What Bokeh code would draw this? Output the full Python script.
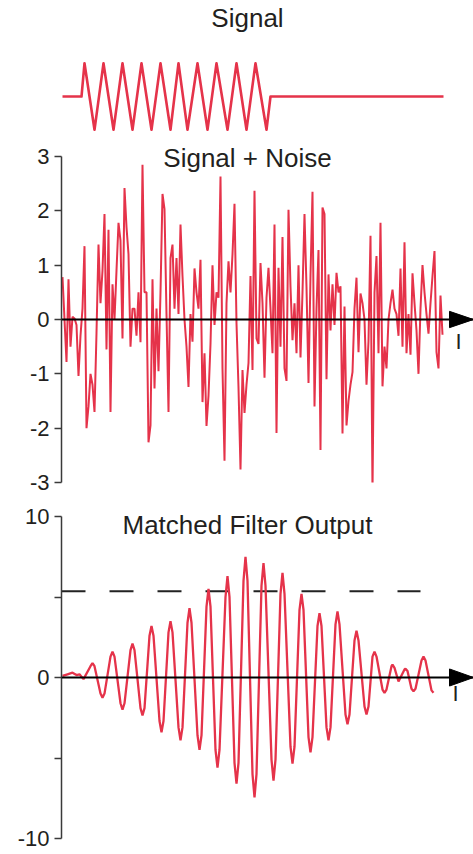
from bokeh.plotting import figure
from bokeh.layouts import column
from bokeh.models import Range1d, FixedTicker, Label, Span
from bokeh.embed import file_html
from bokeh.resources import INLINE

RED = "#e5334a"
INK = "#231f20"
AXIS = "#3a3a3a"
FONT = "Liberation Sans"

# ---- data (time axis in samples, 1 unit = 1 px step of the original) ----
signal_t = [0, 19, 22, 32, 41, 51, 60, 70, 79, 89, 98, 108, 116, 125, 135,
            145, 154, 165, 174, 184, 193, 204, 208, 381]
signal_v = [0, 0, 1, -1, 1, -1, 1, -1, 1, -1, 1, -1, 1, -1, 1,
            -1, 1, -1, 1, -1, 1, -1, 0, 0]

noise_v = [
    0.78, 0.0, -0.78, 0.74, -0.5, 0.05, 0.02, -0.1, -1.04, -0.3,
    0.2, 1.35, -2.0, -1.6, -1.0, -1.2, -1.7, -0.25, 1.38, 0.3,
    0.9, 1.94, -0.55, 1.65, -1.7, 0.65, 0.0, 0.9, 1.78, 1.45,
    -0.35, 2.42, 1.7, 1.2, -0.5, 0.2, 0.2, -0.3, 0.5, -0.42,
    2.85, 0.5, 0.5, -2.26, -1.95, 0.74, -1.27, 0.2, -0.95, 0.5,
    2.31, 2.03, 0.1, -1.7, 1.13, 1.38, 0.2, 1.13, 0.1, 1.75,
    0.8, 0.0, -0.5, -1.24, 0.1, -0.41, 0.94, 0.5, 0.2, 1.1,
    -1.52, -0.62, -1.96, -1.4, -0.45, 1.0, -0.1, 0.5, 0.4, 2.63,
    -0.9, -2.6, 0.3, 1.07, 0.5, 1.2, 2.13, -0.07, -1.25, -2.76,
    -0.93, -1.72, -1.2, -0.8, 0.8, -0.93, 2.37, -0.35, -0.45, 1.04,
    0.3, -1.07, 0.4, 0.95, 0.2, -0.62, 1.75, -2.09, 0.95, -0.5,
    1.52, -0.9, -1.13, 2.02, 0.6, -0.38, 0.3, -0.62, 1.0, -0.7,
    0.5, 1.94, 0.6, -1.17, 0.8, 2.35, -1.6, 0.2, 1.28, -2.4,
    2.06, 1.94, -1.1, 0.83, -0.2, 0.65, -0.1, 0.86, 0.5, 0.61,
    -2.1, 0.24, -1.95, -1.5, -1.2, -0.97, 0.2, 0.77, -0.6, 0.48,
    0.3, 0.0, -1.2, -0.4, 1.54, -3.17, 0.5, 1.17, -0.62, 1.78,
    -1.23, -0.5, -0.9, 0.0, 0.3, 0.55, 0.2, 0.1, -0.3, 0.94,
    -0.5, 1.42, -0.62, 0.1, -0.65, 0.85, 0.3, -0.2, -1.0, 0.2,
    1.0, 0.5, 0.1, -0.26, 0.3, 0.8, 1.26, -0.6, -0.9, 0.44,
    -0.28,
]
noise_step = 2
noise_t = [noise_step * i for i in range(len(noise_v))]

mf_t = [0, 5, 10, 14, 17, 21,
        28, 30, 32, 38, 40, 42, 48, 50, 52, 58, 60, 62, 68, 70, 72,
        78, 80, 82, 87, 89, 91, 97, 99, 101, 106, 108, 110, 116, 118, 120,
        125, 127, 129, 135, 137, 139, 144, 146, 148, 153, 155, 157,
        163, 165, 167, 172, 174, 176, 181, 183, 185, 190, 192, 194,
        199, 201, 203, 209, 211, 213, 218, 220, 222, 228, 230, 232,
        237, 239, 241, 246, 248, 250, 255, 257, 259, 264, 266, 268,
        273, 275, 277, 283, 285, 287, 292, 294, 296, 302, 304, 306,
        310, 312, 314, 320, 322, 324, 329, 330, 332, 336,
        342, 343, 345, 349, 351, 353, 359, 361, 363, 369, 371]
mf_v = [0.1, 0.2, 0.3, 0.15, 0.2, -0.1,
        0.7, 0.9, 0.7, -1.0, -1.25, -1.0, 1.3, 1.6, 1.3, -1.6, -2.0, -1.6,
        1.7, 2.1, 1.7, -1.9, -2.35, -1.9, 2.6, 3.2, 2.6, -2.7, -3.4, -2.7,
        2.8, 3.5, 2.8, -3.1, -3.9, -3.1, 3.4, 4.3, 3.4, -3.6, -4.5, -3.6,
        4.4, 5.5, 4.4, -4.5, -5.6, -4.5, 5.0, 6.3, 5.0, -5.3, -6.6, -5.3,
        6.0, 7.5, 6.0, -6.0, -7.45, -6.0, 5.7, 7.1, 5.7, -5.1, -6.4, -5.1,
        5.2, 6.5, 5.2, -4.3, -5.35, -4.3, 4.2, 5.2, 4.2, -3.7, -4.65, -3.7,
        3.2, 4.0, 3.2, -3.1, -3.9, -3.1, 3.3, 4.1, 3.3, -2.3, -2.9, -2.3,
        2.3, 2.9, 2.3, -1.8, -2.3, -1.8, 1.3, 1.6, 1.3, -0.75, -0.95, -0.75,
        0.7, 0.8, 0.6, -0.25, 0.5, 0.55, 0.4, -0.7, -0.85, -0.7,
        1.05, 1.3, 1.05, -0.8, -0.95]

threshold = 5.36
threshold_end = 358

noise_ticks = [-3, -2, -1, 0, 1, 2, 3]
noise_tick_labels = ["-3", "-2", "-1", "0", "1", "2", "3"]
mf_ticks = [-10, -5, 0, 5, 10]
mf_tick_labels = ["-10", "", "0", "", "10"]

titles = ["Signal", "Signal + Noise", "Matched Filter Output"]
axis_name = "I"

# ---- layout constants ----
W = 473
X0, X1 = -1, 411
TITLE_X = 185
ARROW_BASE = 387


def make_fig(h, y0, y1, top, bottom, with_axis):
    p = figure(width=W, height=h, x_range=Range1d(X0, X1), y_range=Range1d(y0, y1),
               output_backend="svg", toolbar_location=None,
               x_axis_location=None, y_axis_location="left" if with_axis else None,
               min_border_left=61, min_border_right=0,
               min_border_top=top, min_border_bottom=bottom)
    p.grid.visible = False
    p.outline_line_color = None
    p.background_fill_color = "white"
    p.border_fill_color = "white"
    return p


def style_yaxis(p, ticks, labels):
    ax = p.yaxis[0]
    ax.ticker = FixedTicker(ticks=ticks)
    ax.bounds = (min(ticks), max(ticks))
    ax.major_label_overrides = {t: l for t, l in zip(ticks, labels)}
    ax.major_tick_out = 7
    ax.major_tick_in = 0
    ax.minor_tick_out = 0
    ax.minor_tick_in = 0
    ax.axis_line_color = AXIS
    ax.axis_line_width = 1.5
    ax.major_tick_line_color = AXIS
    ax.major_tick_line_width = 1.5
    ax.major_label_text_font = FONT
    ax.major_label_text_font_size = "22px"
    ax.major_label_text_color = INK
    ax.major_label_standoff = 5


def title(p, text, y):
    p.add_layout(Label(x=TITLE_X, y=y, text=text, text_align="center",
                       text_baseline="alphabetic", text_font=FONT,
                       text_font_size="26px", text_color=INK))


def arrow_axis(p, half_h, label_x, label_y):
    p.add_layout(Span(location=0, dimension="width", line_color="black", line_width=2))
    p.patch(x=[ARROW_BASE, X1, ARROW_BASE], y=[half_h, 0, -half_h],
            fill_color="black", line_color="black", line_width=1)
    p.add_layout(Label(x=label_x, y=label_y, text=axis_name, text_align="center",
                       text_baseline="alphabetic", text_font=FONT,
                       text_font_size="22px", text_color=INK))


# Panel 1: Signal
p1 = make_fig(140, -1.321, 2.883, 0, 0, False)
p1.line(signal_t, signal_v, line_color=RED, line_width=2.6, line_join="round")
title(p1, titles[0], 2.36)

# Panel 2: Signal + Noise (frame extends above the top tick so the title is not clipped)
p2 = make_fig(360, -3, 3.2945, 0, 18, True)
style_yaxis(p2, noise_ticks, noise_tick_labels)
p2.line(noise_t, noise_v, line_color=RED, line_width=2)
arrow_axis(p2, 0.15, 396, -0.40)
title(p2, titles[1], 2.97)

# Panel 3: Matched Filter Output
p3 = make_fig(354, -10, 10.994, 0, 16, True)
style_yaxis(p3, mf_ticks, mf_tick_labels)
p3.line([X0, threshold_end], [threshold, threshold], line_color="#222222",
        line_width=2, line_dash="24 24")
p3.line(mf_t, mf_v, line_color=RED, line_width=2.3)
arrow_axis(p3, 0.53, 393, -0.99)
title(p3, titles[2], 9.50)

layout = column(p1, p2, p3)
open("out.html", "w").write(file_html(layout, INLINE))
